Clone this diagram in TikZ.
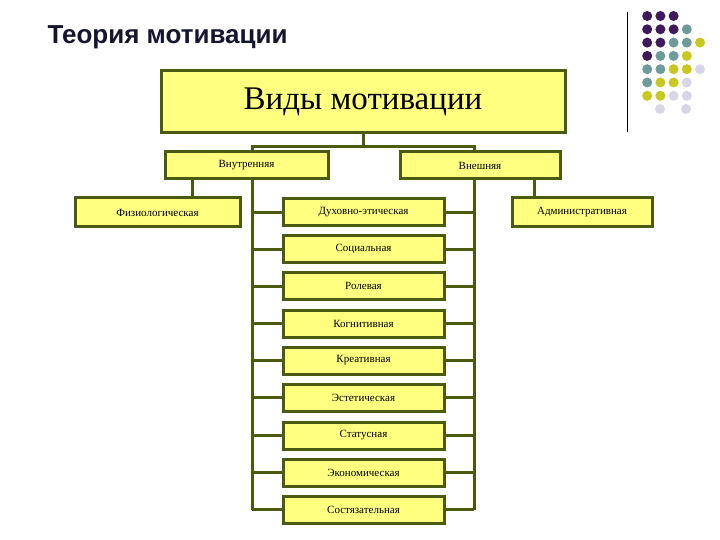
\documentclass[tikz,border=0pt]{standalone}
\usepackage{fontspec}
\setmainfont{Liberation Serif}
\newfontfamily\titlefont{Liberation Sans}
\definecolor{ln}{HTML}{4A5A10}
\definecolor{bx}{HTML}{FFFF80}
\definecolor{dp}{HTML}{3F1A5A}
\definecolor{dt}{HTML}{6F9A9A}
\definecolor{dy}{HTML}{C8C81E}
\definecolor{dl}{HTML}{D6D6E6}
\definecolor{tt}{HTML}{15152E}
\begin{document}
\begin{tikzpicture}[x=1pt,y=-1pt,
  bxs/.style={draw=ln,line width=3pt,fill=bx,inner sep=0pt,font=\fontsize{11}{12}\selectfont},
  cn/.style={draw=ln,line width=3pt}]
\useasboundingbox (0,0) rectangle (720,540);
\node[anchor=west,text=tt,font=\titlefont\bfseries\fontsize{26}{28}\selectfont] (title) at (44,37) {Теория мотивации};
\draw[line width=1pt] (627,12) -- (627,132);
% dots
\foreach \r/\cl in {1/{dp,dp,dp},2/{dp,dp,dp,dt},3/{dp,dp,dt,dt,dy},4/{dp,dt,dt,dy},5/{dt,dt,dy,dy,dl},6/{dt,dy,dy,dl},7/{dy,dy,dl,dl}}{
  \foreach \c [count=\i] in \cl { \fill[\c] ({634+13.2*\i},{16+13.3*(\r-1)}) circle (5pt); }
}
\fill[dl] (660,109) circle (5pt);
\fill[dl] (686,109) circle (5pt);
% boxes
\node[bxs,minimum width=404pt,minimum height=62pt,font=\fontsize{33}{36}\selectfont] (main) at (363,102) {Виды мотивации};
\node[bxs,minimum width=163pt,minimum height=27pt] (vn) at (246.5,165.5) {Внутренняя};
\node[bxs,minimum width=160pt,minimum height=27pt] (ve) at (480,165.5) {Внешняя};
\node[bxs,minimum width=165pt,minimum height=29pt] (fz) at (157.5,212.5) {Физиологическая};
\node[bxs,minimum width=140pt,minimum height=29pt] (ad) at (582,212.5) {Административная};
\foreach \n/\t/\y in {m1/Духовно-этическая/212.5,m2/Социальная/249,m3/Ролевая/286,m4/Когнитивная/323.5,m5/Креативная/360.5,m6/Эстетическая/397.5,m7/Статусная/435.5,m8/Экономическая/472.5,m9/Состязательная/509.5}{
  \node[bxs,minimum width=161pt,minimum height=27pt] (\n) at (363.5,\y) {\t};
}
\coordinate (lb) at (252,509.5);
\coordinate (rb) at (474,509.5);
% connectors
\draw[cn] (main.south) -- ++(0,12) -| (vn.north -| lb);
\draw[cn] (main.south) ++(0,12) -| (ve.north -| rb);
\draw[cn] (vn.south -| fz) ++(34.5,0) -- ++(0,19);
\draw[cn] (ve.south -| ad) ++(-48,0) -- ++(0,19);
\draw[cn] (vn.south -| lb) -- (lb);
\draw[cn] (ve.south -| rb) -- (rb);
\foreach \n in {m1,m2,m3,m4,m5,m6,m7,m8,m9}{
  \draw[cn] (\n.west -| lb) -- (\n.west);
  \draw[cn] (\n.east) -- (\n.east -| rb);
}
\end{tikzpicture}
\end{document}
